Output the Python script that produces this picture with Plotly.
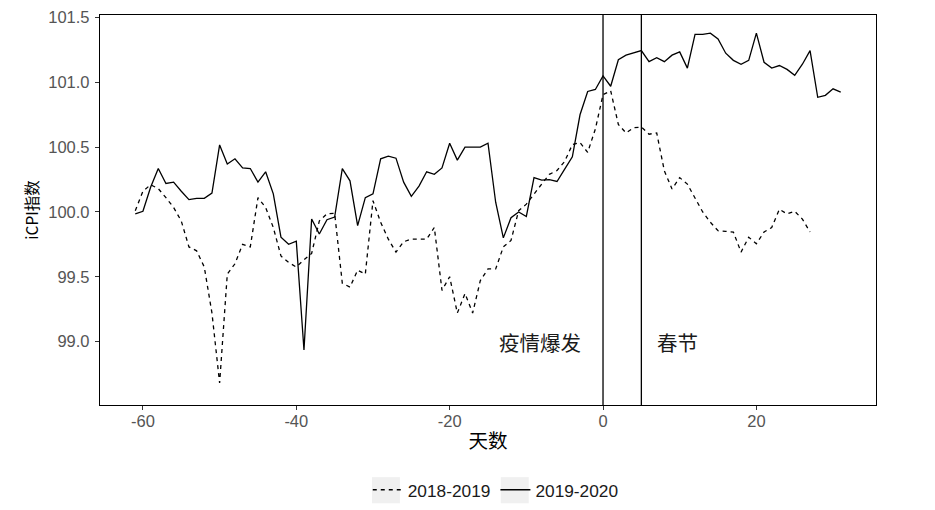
import plotly.graph_objects as go

days_2019_2020 = list(range(-61, 32))
icpi_2019_2020 = [
    99.985, 100.005, 100.19, 100.335, 100.22, 100.23, 100.16, 100.095, 100.105, 100.105,
    100.146, 100.517, 100.37, 100.41, 100.34, 100.335, 100.23, 100.31, 100.14, 99.805,
    99.75, 99.775, 98.935, 99.946, 99.83, 99.94, 99.96, 100.335, 100.24, 99.895,
    100.11, 100.14, 100.41, 100.43, 100.415, 100.23, 100.12, 100.20, 100.31, 100.29,
    100.34, 100.53, 100.40, 100.50, 100.50, 100.50, 100.53, 100.075, 99.80, 99.955,
    100.0, 99.965, 100.265, 100.245, 100.25, 100.235, 100.33, 100.425, 100.75, 100.93,
    100.945, 101.05, 100.97, 101.175, 101.21, 101.23, 101.245, 101.16, 101.19, 101.16,
    101.21, 101.235, 101.11, 101.37, 101.37, 101.38, 101.335, 101.225, 101.17, 101.14,
    101.17, 101.38, 101.155, 101.11, 101.13, 101.10, 101.055, 101.14, 101.245, 100.885,
    100.90, 100.95, 100.925,
]

days_2018_2019 = list(range(-61, 28))
icpi_2018_2019 = [
    100.01, 100.16, 100.21, 100.18, 100.11, 100.035, 99.93, 99.73, 99.70, 99.575,
    99.22, 98.68, 99.52, 99.60, 99.75, 99.73, 100.11, 100.035, 99.88, 99.66,
    99.61, 99.575, 99.63, 99.68, 99.93, 99.985, 99.99, 99.45, 99.42, 99.55,
    99.52, 100.087, 99.92, 99.79, 99.69, 99.77, 99.79, 99.79, 99.79, 99.88,
    99.395, 99.50, 99.22, 99.37, 99.22, 99.47, 99.56, 99.56, 99.73, 99.78,
    100.01, 100.06, 100.14, 100.215, 100.29, 100.32, 100.39, 100.52, 100.535, 100.46,
    100.64, 100.905, 100.935, 100.675, 100.61, 100.65, 100.655, 100.60, 100.61, 100.317,
    100.177, 100.265, 100.215, 100.11, 100.0, 99.92, 99.855, 99.85, 99.845, 99.69,
    99.805, 99.755, 99.845, 99.88, 100.02, 99.985, 100.005, 99.945, 99.845,
]

event_days = [0, 5]
event_labels = ["疫情爆发", "春节"]
event_label_x = [-8.25, 9.7]
event_label_y = [99.0, 99.0]

x_ticks = [-60, -40, -20, 0, 20]
x_tick_text = ["-60", "-40", "-20", "0", "20"]
y_ticks = [99.0, 99.5, 100.0, 100.5, 101.0, 101.5]
y_tick_text = ["99.0", "99.5", "100.0", "100.5", "101.0", "101.5"]

FONT = "Liberation Sans, Arial, Noto Sans CJK SC, sans-serif"
CJK = "Noto Sans CJK SC"

fig = go.Figure()
fig.add_trace(go.Scatter(
    x=days_2018_2019, y=icpi_2018_2019, mode="lines", name="2018-2019",
    line=dict(color="black", width=1.3, dash="4px,4px"),
))
fig.add_trace(go.Scatter(
    x=days_2019_2020, y=icpi_2019_2020, mode="lines", name="2019-2020",
    line=dict(color="black", width=1.3),
))

for d in event_days:
    fig.add_shape(type="line", x0=d, x1=d, xref="x", yref="paper", y0=0, y1=1,
                  line=dict(color="black", width=1.3))

for lab, lx, ly in zip(event_labels, event_label_x, event_label_y):
    fig.add_annotation(x=lx, y=ly, text=lab, showarrow=False,
                       font=dict(family=CJK, size=20.5, color="#1a1a1a"))

# ggplot-style grey legend key backgrounds
for x0 in [0.3505, 0.5165]:
    fig.add_shape(type="rect", xref="paper", yref="paper",
                  x0=x0, x1=x0 + 0.036, y0=-0.252, y1=-0.185,
                  fillcolor="#f0f0f0", line=dict(width=0), layer="below")

fig.update_layout(
    width=935, height=510,
    margin=dict(l=92, r=67, t=7, b=113),
    plot_bgcolor="white", paper_bgcolor="white",
    font=dict(family=FONT, size=16, color="#4d4d4d"),
    showlegend=True,
    legend=dict(orientation="h", x=0.510, y=-0.218, xanchor="center", yanchor="middle",
                font=dict(family=FONT, size=17.3, color="#1a1a1a"),
                bgcolor="rgba(0,0,0,0)"),
    xaxis=dict(
        range=[-65.6, 35.6], tickvals=x_ticks, ticktext=x_tick_text, ticks="outside", ticklen=4,
        tickcolor="#333333", showgrid=False, zeroline=False, automargin=False,
        showline=True, linecolor="black", linewidth=1.3, mirror=True,
        ticklabelstandoff=-3,
        tickfont=dict(family=FONT, size=16.5, color="#555555"),
        title=dict(text="天数", font=dict(family=CJK, size=19.5, color="black"), standoff=5),
    ),
    yaxis=dict(
        range=[98.51, 101.52], tickvals=y_ticks, ticktext=y_tick_text,
        ticks="outside", ticklen=4, tickcolor="#333333", showgrid=False, zeroline=False,
        automargin=False, ticklabelstandoff=2,
        showline=True, linecolor="black", linewidth=1.3, mirror=True,
        tickfont=dict(family=FONT, size=16.5, color="#555555"),
        title=dict(text="iCPI指数", font=dict(family=CJK, size=15.5, color="black"), standoff=5),
    ),
)

fig.write_html("out.html")
